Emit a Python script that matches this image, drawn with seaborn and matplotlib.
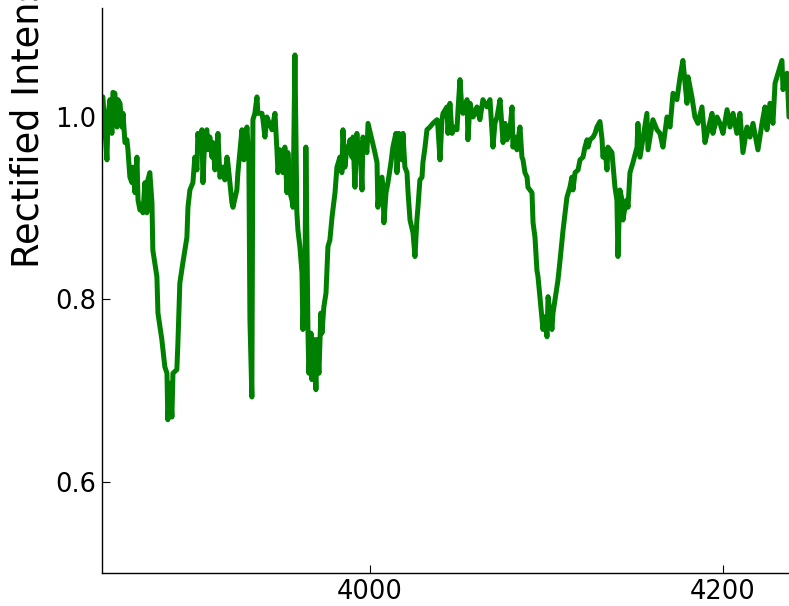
import matplotlib
matplotlib.use("Agg")
import matplotlib.pyplot as plt
import seaborn as sns
import pandas as pd

# Wavelength (Angstrom) and rectified intensity
wavelength = [
    3848.7, 3849.9, 3851.0, 3851.6, 3852.7, 3853.8, 3854.4, 3855.5, 3856.7, 3857.2,
    3858.4, 3859.5, 3860.1, 3861.2, 3862.3, 3862.9, 3864.0, 3865.2, 3865.7, 3866.9,
    3868.0, 3868.6, 3869.7, 3870.8, 3871.4, 3872.5, 3873.6, 3874.2, 3875.3, 3876.5,
    3877.0, 3879.3, 3879.9, 3882.1, 3883.8, 3885.0, 3885.5, 3886.7, 3887.8, 3888.4,
    3890.6, 3891.2, 3892.3, 3894.0, 3896.3, 3896.9, 3898.0, 3899.7, 3900.8, 3902.0,
    3902.5, 3903.7, 3904.8, 3905.4, 3906.5, 3907.6, 3908.2, 3909.3, 3910.5, 3911.0,
    3912.2, 3913.3, 3913.9, 3915.0, 3916.7, 3917.8, 3919.0, 3919.5, 3921.8, 3922.4,
    3924.6, 3925.2, 3927.5, 3928.6, 3930.3, 3931.4, 3932.0, 3933.1, 3933.7, 3934.8,
    3936.0, 3936.5, 3938.8, 3939.4, 3940.5, 3941.6, 3942.2, 3944.5, 3946.2, 3947.3,
    3947.9, 3949.0, 3950.1, 3950.7, 3951.8, 3953.0, 3953.5, 3954.7, 3955.8, 3956.4,
    3957.5, 3958.6, 3959.2, 3960.3, 3961.5, 3962.0, 3963.2, 3963.7, 3964.9, 3965.4,
    3966.6, 3967.1, 3968.3, 3969.4, 3970.0, 3971.1, 3972.2, 3972.8, 3973.9, 3975.1,
    3976.2, 3977.3, 3978.5, 3980.2, 3981.3, 3983.0, 3984.1, 3984.7, 3985.8, 3987.0,
    3987.5, 3988.7, 3989.8, 3990.4, 3991.5, 3992.6, 3993.2, 3994.3, 3995.5, 3996.0,
    3998.3, 3998.9, 4001.1, 4002.8, 4004.0, 4004.5, 4005.7, 4006.8, 4007.4, 4007.9,
    4009.1, 4010.2, 4011.9, 4013.0, 4014.7, 4015.3, 4016.4, 4018.1, 4018.7, 4019.8,
    4021.0, 4021.5, 4022.7, 4024.4, 4025.5, 4026.6, 4027.2, 4028.3, 4029.5, 4030.0,
    4031.2, 4032.3, 4034.0, 4035.7, 4038.0, 4038.5, 4039.7, 4040.8, 4041.4, 4043.6,
    4044.2, 4045.3, 4046.5, 4048.2, 4049.3, 4049.9, 4051.0, 4052.1, 4052.7, 4055.0,
    4055.5, 4056.7, 4058.4, 4059.5, 4060.6, 4062.3, 4064.0, 4066.3, 4068.0, 4069.7,
    4070.8, 4072.0, 4073.7, 4075.4, 4076.5, 4077.6, 4079.3, 4080.5, 4081.0, 4082.2,
    4083.3, 4083.9, 4085.0, 4086.1, 4086.7, 4087.8, 4089.0, 4089.5, 4091.8, 4092.4,
    4093.5, 4094.6, 4095.2, 4096.3, 4097.5, 4098.0, 4099.2, 4100.3, 4100.9, 4102.0,
    4103.1, 4103.7, 4104.8, 4106.5, 4107.7, 4109.4, 4111.6, 4113.3, 4114.4, 4115.0,
    4116.2, 4117.9, 4119.0, 4120.7, 4121.8, 4123.0, 4123.5, 4124.7, 4126.4, 4127.5,
    4128.6, 4130.3, 4131.5, 4132.0, 4133.2, 4134.3, 4134.8, 4137.1, 4138.8, 4139.9,
    4140.5, 4141.6, 4142.8, 4143.3, 4144.5, 4145.6, 4146.2, 4147.3, 4149.0, 4151.3,
    4151.8, 4153.0, 4156.9, 4157.5, 4160.3, 4162.6, 4164.3, 4166.0, 4168.3, 4170.0,
    4171.7, 4173.9, 4175.7, 4177.3, 4178.5, 4179.6, 4180.2, 4182.4, 4184.1, 4185.8,
    4188.1, 4189.8, 4191.5, 4193.8, 4194.3, 4196.6, 4198.3, 4200.0, 4202.3, 4204.0,
    4205.7, 4207.9, 4209.6, 4211.3, 4213.6, 4215.3, 4217.0, 4219.8, 4222.1, 4223.8,
    4224.9, 4226.6, 4228.3, 4229.5, 4231.2, 4233.4, 4234.0, 4236.3, 4237.4, 4240.0,
]
intensity = [
    1.022, 0.986, 0.953, 1.000, 1.019, 0.982, 1.027, 1.026, 0.989, 1.019,
    1.015, 0.989, 1.004, 0.972, 0.975, 0.964, 0.934, 0.928, 0.945, 0.917,
    0.956, 0.909, 0.898, 0.901, 0.895, 0.928, 0.895, 0.931, 0.939, 0.906,
    0.854, 0.825, 0.785, 0.756, 0.726, 0.719, 0.668, 0.708, 0.671, 0.719,
    0.723, 0.752, 0.818, 0.840, 0.868, 0.901, 0.920, 0.928, 0.956, 0.942,
    0.982, 0.964, 0.986, 0.928, 0.982, 0.986, 0.964, 0.978, 0.956, 0.972,
    0.942, 0.964, 0.982, 0.934, 0.945, 0.931, 0.956, 0.950, 0.906, 0.901,
    0.920, 0.939, 0.986, 0.953, 0.989, 0.953, 0.778, 0.693, 0.997, 1.004,
    1.022, 1.004, 1.004, 0.997, 0.978, 1.000, 0.997, 0.986, 1.004, 0.964,
    0.939, 0.964, 0.953, 0.939, 0.967, 0.917, 0.961, 0.917, 0.909, 0.901,
    1.068, 0.895, 0.876, 0.858, 0.829, 0.767, 0.829, 0.967, 0.763, 0.719,
    0.763, 0.712, 0.756, 0.701, 0.756, 0.719, 0.785, 0.763, 0.792, 0.807,
    0.858, 0.865, 0.890, 0.917, 0.945, 0.956, 0.939, 0.986, 0.945, 0.967,
    0.961, 0.975, 0.956, 0.978, 0.923, 0.982, 0.961, 0.972, 0.920, 0.978,
    0.961, 0.993, 0.975, 0.961, 0.950, 0.901, 0.931, 0.934, 0.923, 0.884,
    0.917, 0.928, 0.950, 0.967, 0.982, 0.939, 0.982, 0.953, 0.982, 0.945,
    0.939, 0.920, 0.887, 0.873, 0.847, 0.887, 0.901, 0.931, 0.934, 0.950,
    0.967, 0.986, 0.989, 0.993, 0.997, 0.989, 0.953, 0.997, 1.004, 1.011,
    0.982, 1.015, 0.982, 0.989, 0.986, 1.008, 1.041, 1.008, 1.004, 1.019,
    0.975, 1.015, 1.000, 1.004, 1.011, 0.997, 1.019, 1.011, 1.019, 0.967,
    0.993, 1.000, 1.019, 0.972, 0.993, 0.975, 0.986, 1.011, 0.967, 0.978,
    0.964, 0.975, 0.989, 0.956, 0.953, 0.939, 0.934, 0.923, 0.917, 0.884,
    0.868, 0.832, 0.825, 0.803, 0.778, 0.767, 0.781, 0.759, 0.803, 0.785,
    0.767, 0.785, 0.799, 0.821, 0.843, 0.876, 0.912, 0.923, 0.934, 0.920,
    0.939, 0.942, 0.953, 0.956, 0.967, 0.975, 0.967, 0.975, 0.978, 0.982,
    0.989, 0.995, 0.975, 0.956, 0.964, 0.942, 0.967, 0.961, 0.923, 0.909,
    0.847, 0.920, 0.909, 0.887, 0.901, 0.909, 0.901, 0.939, 0.950, 0.967,
    0.993, 0.956, 1.004, 0.964, 0.997, 0.986, 0.982, 0.967, 1.000, 0.989,
    1.026, 1.019, 1.044, 1.062, 1.037, 1.015, 1.044, 1.022, 1.000, 0.993,
    1.011, 0.972, 0.986, 1.004, 0.982, 1.000, 0.993, 0.982, 1.008, 0.989,
    1.004, 0.982, 1.004, 0.961, 0.989, 0.978, 0.993, 0.964, 0.993, 1.011,
    0.986, 1.015, 0.993, 1.037, 1.048, 1.062, 1.030, 1.048, 1.000, 1.010,
]
x_ticks = [4000, 4200]
y_ticks = [0.6, 0.8, 1.0]
y_label = "Rectified Intensity"

sns.set_theme(style="white")
plt.rcParams["font.family"] = ["DejaVu Sans"]

df = pd.DataFrame({"wavelength": wavelength, "intensity": intensity})

fig = plt.figure(figsize=(7.89, 6.06), dpi=100)
ax = fig.add_axes([102 / 789, 33 / 606, 1 - 102 / 789, (573 - 8) / 606])

sns.lineplot(data=df, x="wavelength", y="intensity", sort=False, estimator=None,
             color=(0.0, 0.5, 0.0), linewidth=3.6, ax=ax)

ax.set_xlim(3848.2, 4237.4)
ax.set_ylim(0.5, 1.1195)
ax.set_xticks(x_ticks)
ax.set_xticklabels([str(t) for t in x_ticks])
ax.set_yticks(y_ticks)
ax.set_yticklabels([f"{t:.1f}" for t in y_ticks])
ax.tick_params(axis="both", direction="in", length=5.5, width=0.8,
               color="black", labelsize=18.5, labelcolor="black", pad=4)
ax.tick_params(axis="x", bottom=True)
ax.tick_params(axis="y", left=True)
ax.set_xlabel("")
ax.set_ylabel("")

for side in ("top", "right"):
    ax.spines[side].set_visible(False)
for side in ("left", "bottom"):
    ax.spines[side].set_color("black")
    ax.spines[side].set_linewidth(1.0)

fig.text(29 / 789, 1 - 268 / 606, y_label, rotation=90, ha="center",
         va="bottom", fontsize=26.5, color="black")

fig.savefig("out.png", dpi=100)
